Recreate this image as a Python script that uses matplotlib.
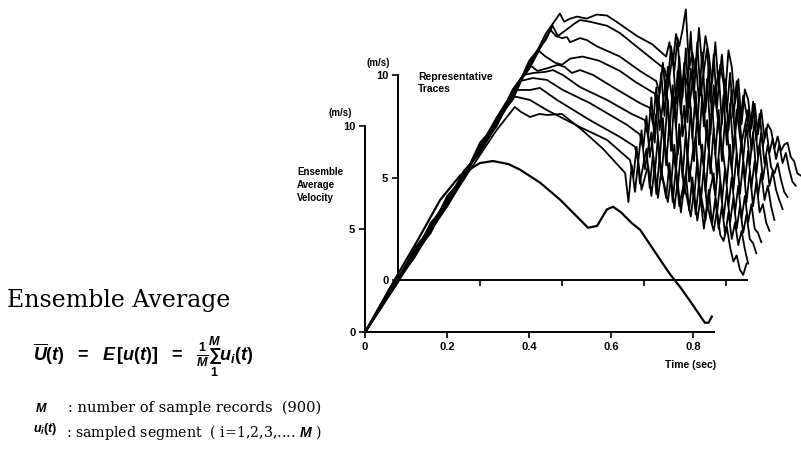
import matplotlib
matplotlib.use("Agg")
import matplotlib.pyplot as plt

plt.rcParams['mathtext.fontset'] = 'custom'
plt.rcParams['mathtext.rm'] = 'Liberation Sans:bold'
plt.rcParams['mathtext.it'] = 'Liberation Sans:italic:bold'
plt.rcParams['mathtext.bf'] = 'Liberation Sans:bold'

# ensemble average velocity (front axes, m/s vs s)
ens_t = [0, 0.04, 0.08, 0.127, 0.183, 0.232, 0.28, 0.312, 0.35, 0.378, 0.427, 0.476,
         0.517, 0.544, 0.566, 0.59, 0.605, 0.625, 0.65, 0.671, 0.69, 0.727, 0.746,
         0.768, 0.793, 0.817, 0.829, 0.838, 0.846]
ens_v = [0, 1.4, 2.8, 4.4, 6.4, 7.6, 8.2, 8.3, 8.15, 7.88, 7.25, 6.42,
         5.6, 5.06, 5.15, 5.95, 6.08, 5.8, 5.3, 4.96, 4.4, 3.3, 2.75,
         2.2, 1.5, 0.8, 0.45, 0.45, 0.75]

# representative traces (back axes): smooth rise / hump part
trace_t = [
    [-0.08, 0.0, 0.04, 0.08, 0.12, 0.16, 0.20, 0.24, 0.28, 0.32, 0.36, 0.395, 0.405, 0.42, 0.437, 0.46, 0.485, 0.51, 0.54, 0.583, 0.62],
    [-0.08, 0.0, 0.04, 0.08, 0.12, 0.16, 0.20, 0.24, 0.28, 0.32, 0.36, 0.377, 0.39, 0.41, 0.43, 0.444, 0.468, 0.51, 0.541, 0.60],
    [-0.08, 0.0, 0.04, 0.08, 0.12, 0.16, 0.20, 0.24, 0.28, 0.32, 0.36, 0.372, 0.385, 0.40, 0.412, 0.42, 0.444, 0.461, 0.485, 0.541, 0.59],
    [-0.08, 0.0, 0.04, 0.08, 0.12, 0.16, 0.20, 0.24, 0.28, 0.32, 0.342, 0.36, 0.383, 0.40, 0.42, 0.45, 0.49, 0.541, 0.58],
    [-0.08, 0.0, 0.04, 0.08, 0.12, 0.16, 0.20, 0.24, 0.28, 0.321, 0.34, 0.366, 0.39, 0.407, 0.424, 0.444, 0.476, 0.524, 0.59],
    [-0.08, 0.0, 0.04, 0.08, 0.12, 0.16, 0.20, 0.24, 0.28, 0.306, 0.33, 0.359, 0.378, 0.402, 0.444, 0.51, 0.57],
    [-0.08, 0.0, 0.04, 0.08, 0.12, 0.16, 0.20, 0.24, 0.28, 0.297, 0.329, 0.363, 0.402, 0.468, 0.559],
    [-0.08, 0.0, 0.04, 0.08, 0.12, 0.16, 0.20, 0.24, 0.285, 0.322, 0.346, 0.388, 0.468, 0.541],
    [-0.08, 0.0, 0.04, 0.08, 0.12, 0.16, 0.20, 0.24, 0.275, 0.29, 0.322, 0.363, 0.444, 0.51],
    [-0.08, 0.0, 0.04, 0.08, 0.12, 0.16, 0.20, 0.24, 0.285, 0.30, 0.322, 0.345, 0.363, 0.40, 0.45, 0.50, 0.554],
]
trace_v = [
    [-2.54, 0.0, 1.5, 2.4, 4.1, 5.0, 6.7, 7.6, 9.3, 10.4, 12.0, 13.0, 12.6, 12.75, 12.85, 12.75, 12.95, 12.9, 12.5, 11.9, 11.5],
    [-2.54, 0.1, 1.2, 2.8, 3.7, 5.3, 6.2, 7.9, 8.9, 10.7, 11.7, 12.4, 11.9, 12.2, 12.5, 12.68, 12.6, 12.4, 12.05, 11.1],
    [-2.54, -0.1, 1.4, 2.5, 4.0, 4.9, 6.6, 7.5, 9.2, 10.3, 11.8, 12.2, 11.9, 11.8, 11.85, 11.6, 11.8, 11.7, 11.4, 10.9, 10.2],
    [-2.54, 0.0, 1.1, 2.7, 3.6, 5.2, 6.3, 7.8, 8.8, 10.6, 11.2, 10.9, 10.6, 10.5, 10.8, 10.9, 10.7, 10.2, 9.65],
    [-2.54, 0.1, 1.3, 2.3, 4.0, 5.1, 6.5, 7.9, 9.2, 10.5, 10.2, 10.34, 10.5, 10.39, 10.1, 10.24, 10.0, 9.41, 8.63],
    [-2.54, 0.0, 1.5, 2.6, 3.8, 5.3, 6.2, 7.6, 8.9, 10.0, 10.1, 10.15, 10.24, 10.0, 9.41, 8.78, 8.1],
    [-2.54, -0.1, 1.2, 2.7, 3.9, 4.9, 6.6, 7.7, 9.0, 9.7, 9.85, 9.76, 9.27, 8.63, 7.56],
    [-2.54, 0.1, 1.4, 2.4, 3.7, 5.2, 6.3, 7.5, 9.27, 9.27, 9.37, 8.78, 7.8, 6.98],
    [-2.54, 0.0, 1.2, 2.6, 4.0, 5.0, 6.4, 7.8, 8.9, 8.93, 8.78, 8.29, 7.46, 6.83],
    [-2.54, 0.0, 1.1, 2.4, 3.6, 4.9, 6.1, 7.3, 8.44, 8.2, 7.95, 8.1, 8.05, 8.1, 7.3, 6.4, 5.22],
]

# noisy tail of each trace; even traces sampled on grid a, odd ones on grid b
noise_t_a = [0.550, 0.558, 0.566, 0.574, 0.582, 0.590, 0.598, 0.606, 0.614, 0.622,
             0.630, 0.638, 0.646, 0.654, 0.662, 0.670, 0.678, 0.686, 0.694, 0.702,
             0.710, 0.718, 0.726, 0.734, 0.742, 0.750, 0.758, 0.766, 0.774, 0.782,
             0.790, 0.798, 0.806, 0.814, 0.822, 0.830, 0.838, 0.846, 0.854, 0.862,
             0.870, 0.878, 0.886, 0.894, 0.902, 0.910, 0.918, 0.926, 0.934, 0.942,
             0.950, 0.958, 0.966, 0.974, 0.982, 0.990]
noise_t_b = [0.554, 0.562, 0.570, 0.578, 0.586, 0.594, 0.602, 0.610, 0.618, 0.626,
             0.634, 0.642, 0.650, 0.658, 0.666, 0.674, 0.682, 0.690, 0.698, 0.706,
             0.714, 0.722, 0.730, 0.738, 0.746, 0.754, 0.762, 0.770, 0.778, 0.786,
             0.794, 0.802, 0.810, 0.818, 0.826, 0.834, 0.842, 0.850, 0.858, 0.866,
             0.874, 0.882, 0.890, 0.898, 0.906, 0.914, 0.922, 0.930, 0.938, 0.946,
             0.954, 0.962, 0.970, 0.978, 0.986, 0.994]
noise_start = [13, 12, 10, 9, 8, 6, 5, 3, 2, 1]
noise_v = [
    [10.9, 11.6, 10.5, 12.0, 11.4, 12.2, 13.2, 10.3, 11.1, 10.1, 12.3, 10.4, 11.9, 11.0, 9.6, 11.6, 9.4, 11.0, 9.0, 11.2,
     10.4, 8.6, 9.8, 7.6, 9.3, 8.8, 7.4, 8.6, 7.1, 8.3, 6.9, 7.6, 7.3, 6.4, 7.0, 6.3, 6.6, 6.7, 6.0, 5.8, 5.2, 5.1],
    [10.3, 9.6, 11.4, 10.2, 11.8, 9.2, 10.1, 9.5, 12.1, 9.1, 11.6, 9.0, 10.2, 11.3, 8.7, 11.0, 8.4, 10.5, 9.6, 8.2,
     10.1, 7.9, 9.7, 7.5, 9.0, 8.1, 7.0, 8.7, 6.8, 8.1, 6.5, 7.4, 6.2, 6.9, 5.9, 6.6, 5.7, 6.2, 5.4, 4.8, 4.6],
    [9.7, 9.1, 10.6, 8.8, 9.9, 11.0, 8.6, 10.9, 8.9, 11.3, 8.4, 9.6, 10.8, 8.7, 11.1, 8.2, 10.4, 8.0, 9.1, 10.2,
     7.6, 9.8, 7.3, 9.3, 7.0, 8.8, 6.7, 7.5, 8.3, 6.3, 7.8, 6.0, 7.2, 5.7, 6.6, 5.5, 5.2, 5.7, 4.9, 4.3, 4.05],
    [9.1, 8.3, 10.1, 8.0, 10.4, 9.2, 7.9, 10.2, 8.1, 10.6, 7.7, 10.3, 8.9, 7.6, 9.9, 7.5, 9.8, 7.1, 9.5, 8.2,
     6.9, 9.0, 6.6, 8.6, 6.2, 8.3, 7.0, 5.9, 7.6, 5.6, 7.2, 5.2, 6.6, 4.9, 6.0, 4.6, 5.3, 4.4, 3.9, 3.46],
    [8.4, 7.6, 9.4, 7.3, 8.6, 9.8, 7.1, 9.5, 7.4, 9.9, 7.0, 8.1, 9.6, 6.9, 9.2, 6.6, 9.0, 7.4, 6.3, 8.7,
     6.1, 8.3, 5.8, 7.9, 6.6, 5.4, 7.3, 5.1, 6.9, 4.8, 6.3, 4.5, 5.8, 4.1, 5.2, 3.9, 4.6, 3.6, 2.93],
    [7.8, 7.0, 8.9, 6.7, 9.0, 7.9, 6.6, 8.8, 6.3, 8.9, 6.1, 7.2, 8.5, 5.9, 8.4, 5.8, 8.1, 6.6, 5.5, 7.8,
     5.2, 7.4, 5.0, 7.1, 6.0, 4.7, 6.6, 4.4, 6.2, 4.2, 5.8, 3.8, 5.3, 3.6, 4.8, 3.3, 3.7, 2.8, 2.4],
    [7.1, 6.4, 8.0, 6.0, 7.0, 8.1, 5.8, 7.9, 5.6, 7.7, 6.4, 5.3, 7.6, 5.0, 7.2, 4.8, 6.1, 7.0, 4.5, 6.6,
     4.3, 6.2, 5.2, 4.1, 5.9, 3.8, 5.5, 3.6, 5.0, 3.3, 4.6, 3.0, 4.1, 2.8, 3.7, 2.5, 2.3, 1.85],
    [6.5, 5.8, 7.3, 5.4, 6.4, 7.2, 5.1, 7.0, 4.9, 6.8, 5.6, 4.6, 6.6, 4.4, 6.3, 4.2, 6.0, 5.0, 3.9, 5.9,
     3.7, 5.5, 3.4, 4.5, 5.2, 3.2, 4.8, 3.0, 4.4, 2.8, 4.0, 2.5, 3.6, 2.3, 3.2, 2.0, 1.8, 1.3],
    [5.85, 5.0, 6.5, 4.7, 5.6, 6.4, 4.5, 6.2, 4.2, 6.0, 4.9, 4.0, 5.7, 3.8, 5.5, 3.6, 4.4, 5.2, 3.4, 5.0,
     3.2, 4.7, 3.8, 2.9, 4.4, 2.7, 4.0, 2.5, 3.6, 2.2, 3.3, 2.0, 2.8, 1.7, 2.4, 1.5, 0.8],
    [3.8, 5.6, 4.3, 5.8, 4.4, 5.0, 5.6, 4.1, 5.5, 4.0, 5.3, 4.6, 3.8, 5.0, 3.5, 4.8, 3.3, 4.6, 3.9, 3.1,
     4.3, 2.9, 4.0, 2.5, 3.7, 3.0, 2.4, 3.4, 2.2, 1.9, 2.6, 1.6, 0.9, 1.2, 0.5, 0.25, 0.8],
]

time_ticks = [0, 0.2, 0.4, 0.6, 0.8]
time_labels = ['0', '0.2', '0.4', '0.6', '0.8']
vel_ticks = [0, 5, 10]
vel_labels = ['0', '5', '10']

W, H = 801, 462
SANS = 'Liberation Sans'
SERIF = 'DejaVu Serif'


def style_axes(ax):
    ax.set_facecolor('none')
    for s in ('top', 'right'):
        ax.spines[s].set_visible(False)
    for s in ('left', 'bottom'):
        ax.spines[s].set_linewidth(1.4)
    ax.tick_params(direction='out', length=4, width=1.2, pad=3)
    ax.set_xlim(0, 0.85)
    ax.set_ylim(0, 10)


fig = plt.figure(figsize=(W / 100, H / 100), dpi=100)

# back axes: representative traces
axb = fig.add_axes([398 / W, 1 - 280 / H, 348.5 / W, 205 / H])
style_axes(axb)
axb.set_xticks(time_ticks[1:])
axb.set_xticklabels([])
axb.set_yticks(vel_ticks)
axb.set_yticklabels(vel_labels, fontsize=8, fontweight='bold', family=SANS)
for k in range(len(trace_t)):
    s = noise_start[k]
    grid = noise_t_a if k % 2 == 0 else noise_t_b
    tt = trace_t[k] + grid[s:s + len(noise_v[k])]
    vv = trace_v[k] + noise_v[k]
    axb.plot(tt, vv, color='black', lw=1.3, clip_on=False)
axb.text(-0.057, 1.059, '(m/s)', transform=axb.transAxes, ha='center', va='center',
         fontsize=7, fontweight='bold', family=SANS)
axb.text(0.057, 0.96, 'Representative\nTraces', transform=axb.transAxes, ha='left',
         va='center', fontsize=7.5, fontweight='bold', family=SANS, linespacing=1.25)

# front axes: ensemble average
axf = fig.add_axes([365 / W, 1 - 332 / H, 348.5 / W, 206 / H])
style_axes(axf)
axf.set_xticks(time_ticks)
axf.set_xticklabels(time_labels, fontsize=8, fontweight='bold', family=SANS)
axf.set_yticks(vel_ticks)
axf.set_yticklabels(vel_labels, fontsize=8, fontweight='bold', family=SANS)
axf.plot(ens_t, ens_v, color='black', lw=1.6, clip_on=False)
axf.text(-0.072, 1.063, '(m/s)', transform=axf.transAxes, ha='center', va='center',
         fontsize=7, fontweight='bold', family=SANS)
axf.text(0.933, -0.16, 'Time (sec)', transform=axf.transAxes, ha='center', va='center',
         fontsize=7.5, fontweight='bold', family=SANS)
axf.text(-0.195, 0.715, 'Ensemble\nAverage\nVelocity', transform=axf.transAxes,
         ha='left', va='center', fontsize=7, fontweight='bold', family=SANS, linespacing=1.35)

# left-hand explanation
fig.text(7 / W, 1 - 307 / H, 'Ensemble Average', fontsize=17, family=SERIF, va='baseline')
fig.text(33 / W, 1 - 357 / H,
         r'$\overline{U}(t)\ \ =\ \ E\,[u(t)]\ \ =\ \ \frac{1}{M}\sum_{1}^{M}u_i(t)$',
         fontsize=13, va='center')
fig.text(35 / W, 1 - 408 / H, r'$M$', fontsize=9, va='center')
fig.text(68 / W, 1 - 408 / H, ': number of sample records  (900)', fontsize=10.5,
         family=SERIF, va='center')
fig.text(33 / W, 1 - 429 / H, r'$u_i(t)$', fontsize=9, va='center')
fig.text(66 / W, 1 - 433 / H, r': sampled segment  ( i=1,2,3,.... $M$ )', fontsize=10.2,
         family=SERIF, va='center')

fig.savefig('out.png', dpi=100)
